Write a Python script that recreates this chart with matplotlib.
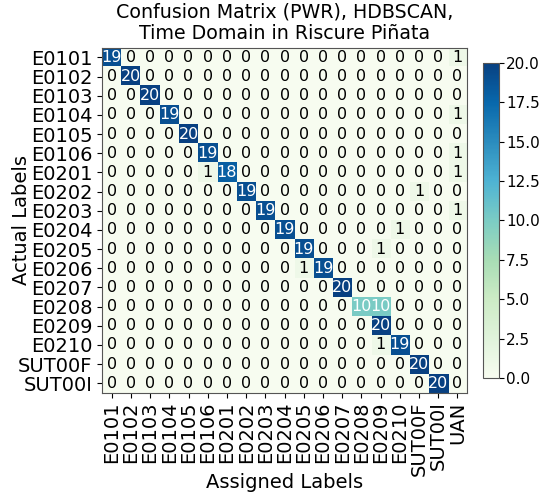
import numpy as np
import matplotlib
matplotlib.use("Agg")
import matplotlib.pyplot as plt

# row / column labels
actual = ["E0101", "E0102", "E0103", "E0104", "E0105", "E0106",
          "E0201", "E0202", "E0203", "E0204", "E0205", "E0206",
          "E0207", "E0208", "E0209", "E0210", "SUT00F", "SUT00I"]
assigned = actual + ["UAN"]

# non-zero entries: (row, col, count)
diag = [19, 20, 20, 19, 20, 19, 18, 19, 19, 19, 19, 19, 20, 10, 20, 19, 20, 20]
off_diag = [(0, 18, 1), (3, 18, 1), (5, 18, 1), (6, 5, 1), (6, 18, 1),
            (7, 16, 1), (8, 18, 1), (9, 15, 1), (10, 14, 1), (11, 10, 1),
            (13, 14, 10), (15, 14, 1)]

cm = np.zeros((len(actual), len(assigned)), dtype=int)
for i, v in enumerate(diag):
    cm[i, i] = v
for r, c, v in off_diag:
    cm[r, c] = v

fig = plt.figure(figsize=(5.4, 4.98), dpi=100)
ax = fig.add_axes([0.189, 0.211, 0.676, 0.693])
cax = fig.add_axes([0.894, 0.241, 0.030, 0.633])

im = ax.imshow(cm, cmap="GnBu", vmin=0, vmax=20, aspect="auto")
for i in range(cm.shape[0]):
    for j in range(cm.shape[1]):
        v = cm[i, j]
        ax.text(j, i, str(v), ha="center", va="center", fontsize=11.5,
                color="white" if v >= 10 else "black")

ax.set_xticks(range(len(assigned)))
ax.set_xticklabels(assigned, rotation=90, fontsize=14)
ax.set_yticks(range(len(actual)))
ax.set_yticklabels(actual, fontsize=14)
ax.tick_params(axis="x", pad=2.5)
ax.set_xlabel("Assigned Labels", fontsize=14)
ax.set_ylabel("Actual Labels", fontsize=14)
ax.xaxis.set_label_coords(0.5, -0.232)
ax.yaxis.set_label_coords(-0.195, 0.5)
ax.set_title("Confusion Matrix (PWR), HDBSCAN,\nTime Domain in Riscure Piñata",
             fontsize=13.7)
for s in ax.spines.values():
    s.set_edgecolor("#555555")

cb = fig.colorbar(im, cax=cax)
cb.ax.tick_params(labelsize=11, pad=1.5)
cb.outline.set_edgecolor("#555555")

fig.savefig("out.png", dpi=100)
